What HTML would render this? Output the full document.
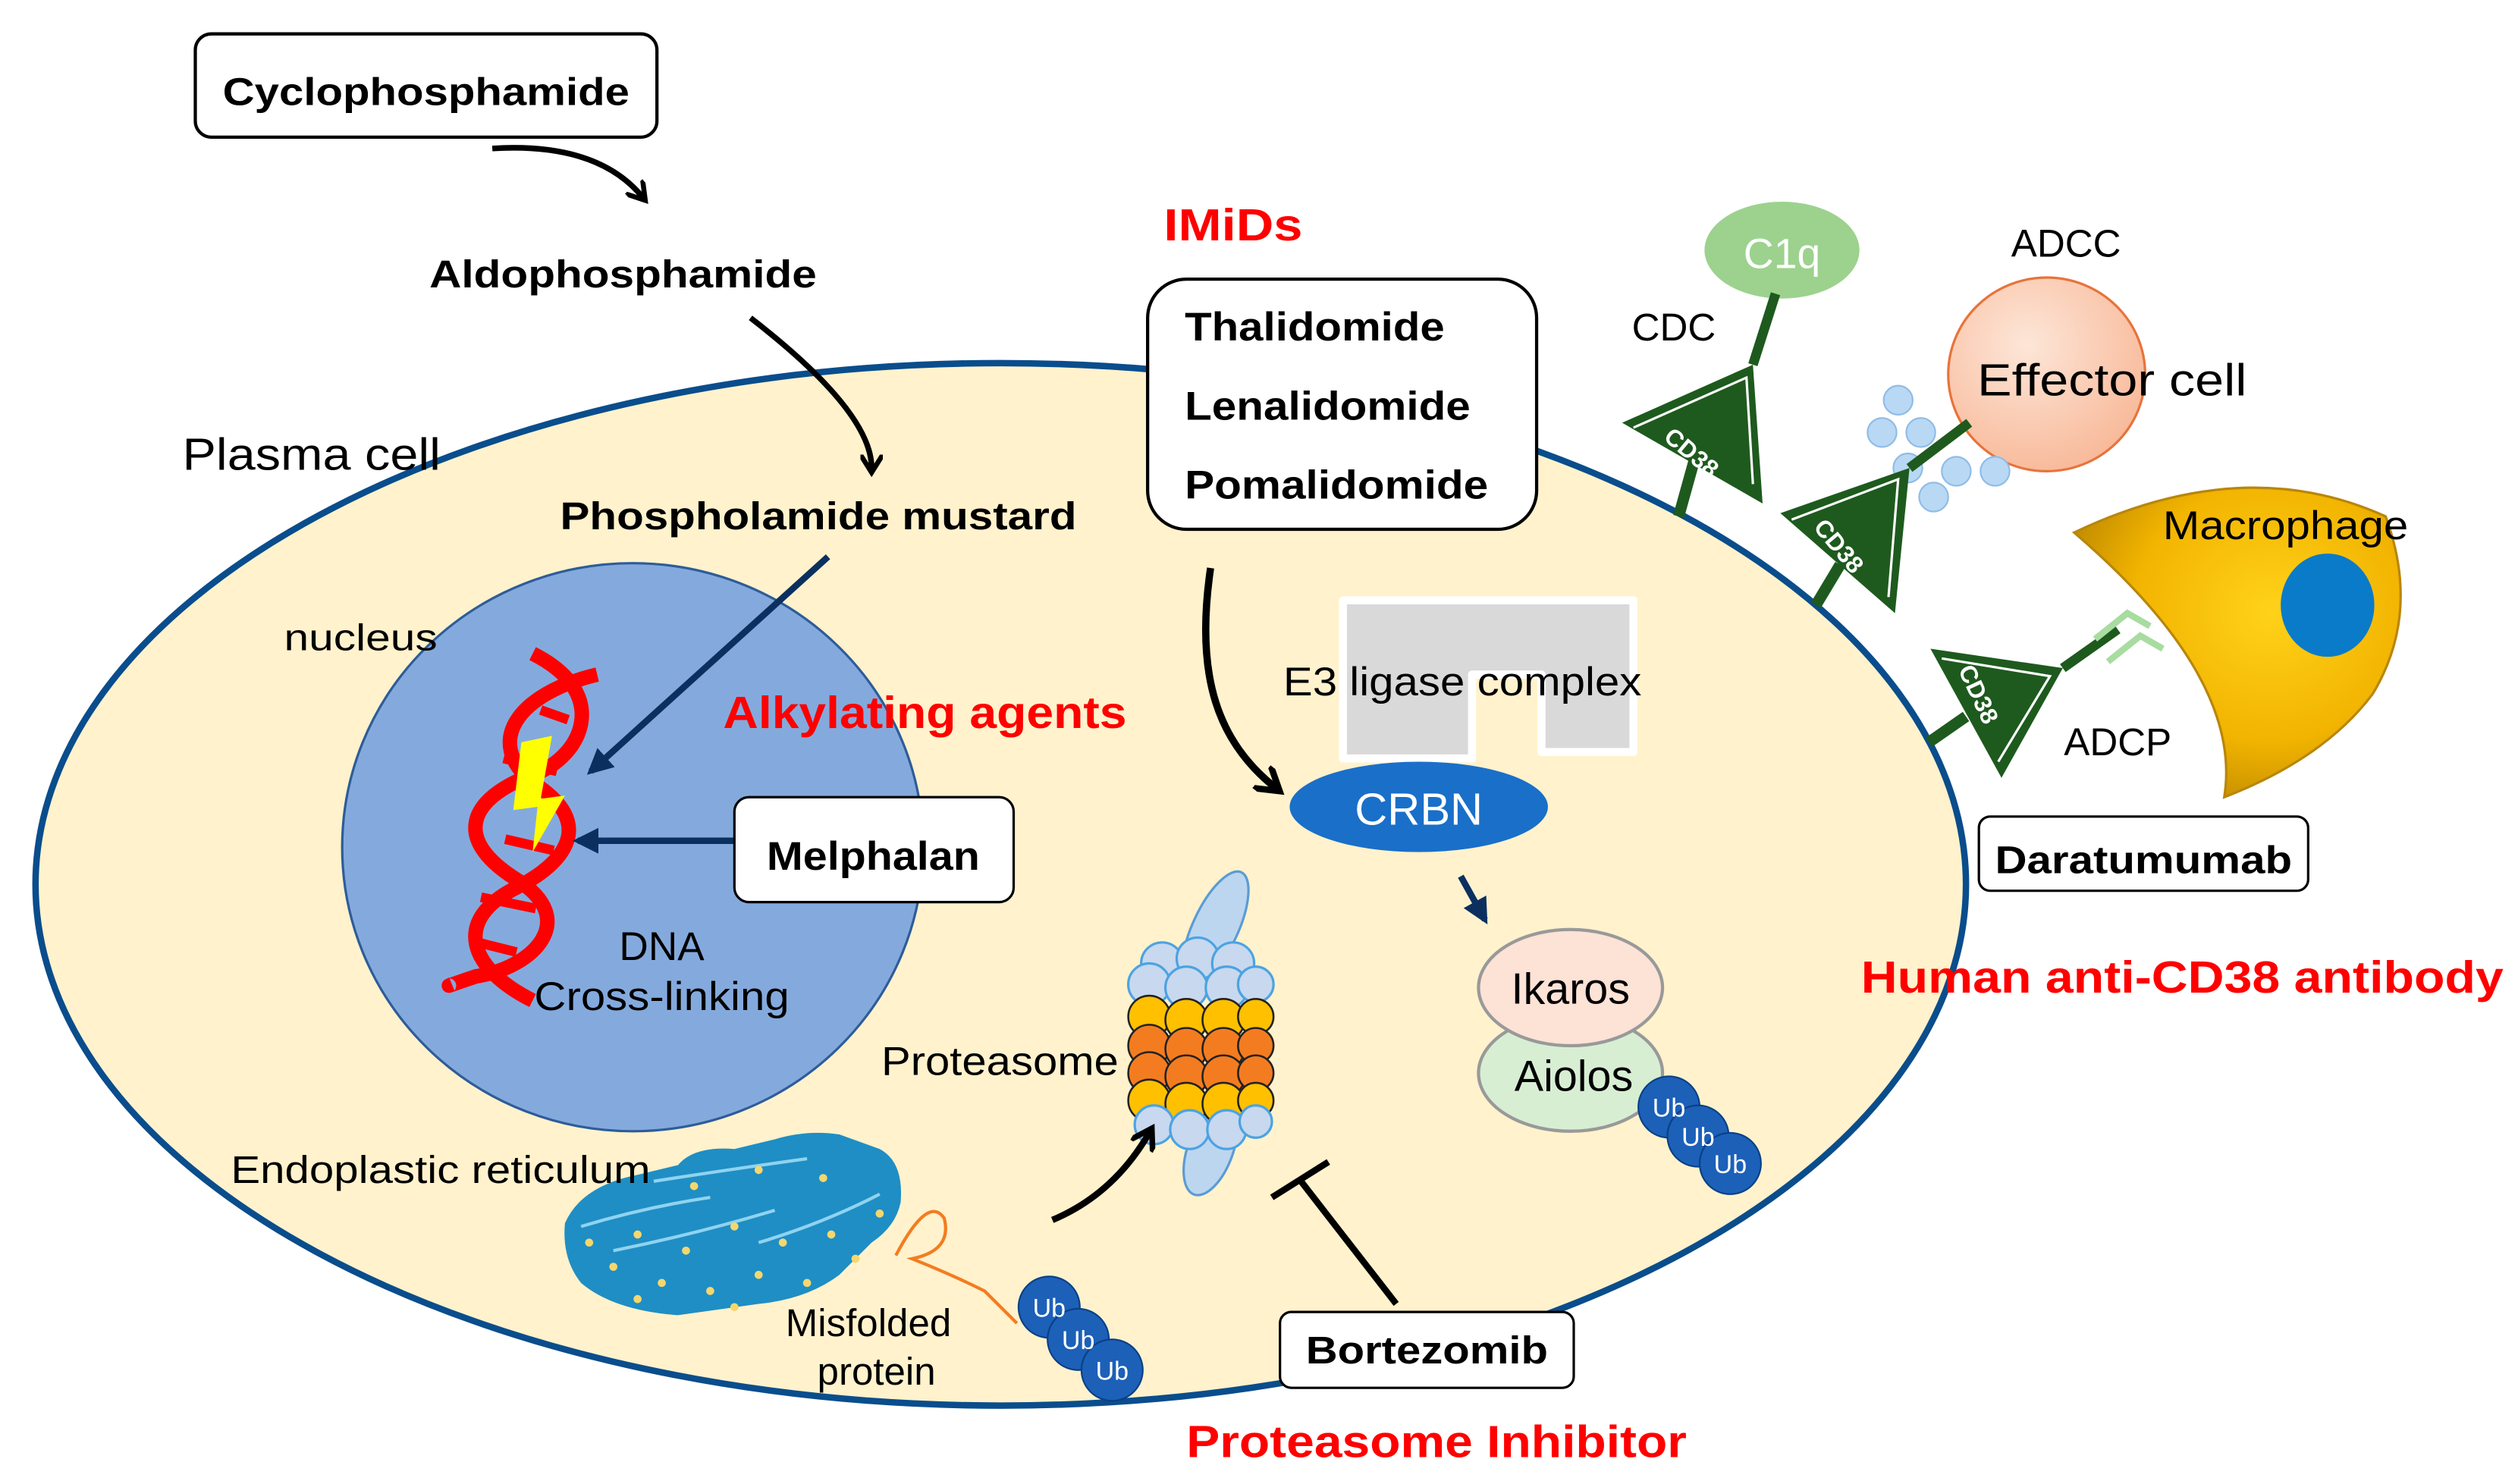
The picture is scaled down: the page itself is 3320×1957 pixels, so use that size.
<!DOCTYPE html>
<html><head><meta charset="utf-8"><style>
html,body{margin:0;padding:0;background:#fff;}
svg{display:block;}
text{font-family:"Liberation Sans",sans-serif;}
</style></head><body>
<svg width="3320" height="1957" viewBox="0 0 1560 919.6" preserveAspectRatio="none" xmlns="http://www.w3.org/2000/svg">
<defs>
<marker id="ah" viewBox="0 0 10 10" refX="6" refY="5" markerWidth="4" markerHeight="4" orient="auto"><path d="M0,0 L8,5 L0,10" fill="none" stroke="#000" stroke-width="2.2"/></marker>
<marker id="nb" viewBox="0 0 10 10" refX="8" refY="5" markerWidth="4" markerHeight="4" orient="auto"><path d="M0,0 L10,5 L0,10 z" fill="#0b3060"/></marker>
<radialGradient id="eff" cx="40%" cy="35%" r="70%"><stop offset="0" stop-color="#fde6d8"/><stop offset="1" stop-color="#f8b898"/></radialGradient>
<radialGradient id="mac" cx="60%" cy="40%" r="70%"><stop offset="0" stop-color="#ffd21a"/><stop offset="0.6" stop-color="#f2b400"/><stop offset="1" stop-color="#b88400"/></radialGradient>
</defs>

<!-- cell -->
<ellipse cx="620" cy="548" rx="598" ry="323" fill="#fff2cc" stroke="#0a4d8c" stroke-width="4"/>
<!-- nucleus -->
<ellipse cx="392" cy="525" rx="180" ry="176" fill="#84aadd" stroke="#2e5c9a" stroke-width="1.5"/>

<!-- top boxes -->
<rect x="121" y="21" width="286" height="64" rx="10" fill="#fff" stroke="#000" stroke-width="2"/>
<text x="264" y="65" text-anchor="middle" font-weight="bold" font-size="24" textLength="252" lengthAdjust="spacingAndGlyphs">Cyclophosphamide</text>
<path d="M305,92 Q370,88 398,122" fill="none" stroke="#000" stroke-width="3.5" marker-end="url(#ah)"/>
<text x="386" y="178" text-anchor="middle" font-weight="bold" font-size="24" textLength="240" lengthAdjust="spacingAndGlyphs">Aldophosphamide</text>
<path d="M465,197 Q540,255 540,290" fill="none" stroke="#000" stroke-width="3.5" marker-end="url(#ah)"/>
<text x="113" y="291" font-size="28" textLength="160" lengthAdjust="spacingAndGlyphs">Plasma cell</text>
<text x="507" y="328" text-anchor="middle" font-weight="bold" font-size="24" textLength="320" lengthAdjust="spacingAndGlyphs">Phospholamide mustard</text>
<text x="176" y="403" font-size="23" textLength="95" lengthAdjust="spacingAndGlyphs">nucleus</text>

<!-- DNA -->
<g stroke="#ff0000" stroke-width="9" fill="none">
<path d="M330,405 C380,430 360,470 330,480 C290,495 280,520 320,545 C360,570 330,600 295,605 C280,610 275,612 280,610"/>
<path d="M370,418 C320,430 300,460 330,485 C370,510 350,535 320,550 C280,570 290,600 330,620"/>
</g>
<g stroke="#ff0000" stroke-width="6">
<line x1="335" y1="440" x2="352" y2="446"/><line x1="312" y1="470" x2="345" y2="478"/>
<line x1="313" y1="520" x2="343" y2="527"/><line x1="298" y1="556" x2="332" y2="563"/>
<line x1="296" y1="584" x2="320" y2="590"/>
</g>
<polygon points="323,460 342,456 335,495 350,493 330,528 333,500 318,502" fill="#ffff00"/>
<line x1="513" y1="345" x2="366" y2="478" stroke="#0b3060" stroke-width="4" marker-end="url(#nb)"/>
<line x1="455" y1="521" x2="358" y2="521" stroke="#0b3060" stroke-width="4" marker-end="url(#nb)"/>
<text x="573" y="451" text-anchor="middle" font-weight="bold" font-size="28" fill="#ff0000" textLength="250" lengthAdjust="spacingAndGlyphs">Alkylating agents</text>
<rect x="455" y="494" width="173" height="65" rx="9" fill="#fff" stroke="#000" stroke-width="1.5"/>
<text x="541" y="539" text-anchor="middle" font-weight="bold" font-size="25" textLength="132" lengthAdjust="spacingAndGlyphs">Melphalan</text>
<text x="410" y="595" text-anchor="middle" font-size="25">DNA</text>
<text x="410" y="626" text-anchor="middle" font-size="25" textLength="158" lengthAdjust="spacingAndGlyphs">Cross-linking</text>

<!-- IMiDs -->
<text x="764" y="149" text-anchor="middle" font-weight="bold" font-size="28" fill="#ff0000" textLength="86" lengthAdjust="spacingAndGlyphs">IMiDs</text>
<rect x="711" y="173" width="241" height="155" rx="24" fill="#fff" stroke="#000" stroke-width="2"/>
<text x="734" y="211" font-weight="bold" font-size="25" textLength="161" lengthAdjust="spacingAndGlyphs">Thalidomide</text>
<text x="734" y="260" font-weight="bold" font-size="25" textLength="177" lengthAdjust="spacingAndGlyphs">Lenalidomide</text>
<text x="734" y="309" font-weight="bold" font-size="25" textLength="188" lengthAdjust="spacingAndGlyphs">Pomalidomide</text>
<path d="M750,352 C740,420 755,460 790,488" fill="none" stroke="#000" stroke-width="4.5" marker-end="url(#ah)"/>

<!-- E3 ligase -->
<path d="M832,372 H1012 V466 H955 V418 H912 V470 H832 Z" fill="#d9d9d9" stroke="#fff" stroke-width="5" stroke-linejoin="round"/>
<text x="795" y="431" font-size="25" textLength="222" lengthAdjust="spacingAndGlyphs">E3 ligase complex</text>
<ellipse cx="879" cy="500" rx="80" ry="28" fill="#1a6fc9"/>
<text x="879" y="511" text-anchor="middle" font-size="28" fill="#fff">CRBN</text>
<line x1="905" y1="543" x2="920" y2="570" stroke="#0b3060" stroke-width="4" marker-end="url(#nb)"/>
<ellipse cx="973" cy="665" rx="57" ry="36" fill="#d7eed3" stroke="#999" stroke-width="2"/>
<ellipse cx="973" cy="612" rx="57" ry="36" fill="#fde2d6" stroke="#999" stroke-width="2"/>
<text x="973" y="622" text-anchor="middle" font-size="27">Ikaros</text>
<text x="975" y="676" text-anchor="middle" font-size="27">Aiolos</text>
<g fill="#1c60b8" stroke="#0a3f85" stroke-width="1">
<circle cx="1034" cy="686" r="19"/><circle cx="1052" cy="704" r="19"/><circle cx="1072" cy="721" r="19"/></g>
<g fill="#fff" font-size="16" text-anchor="middle"><text x="1034" y="692">Ub</text><text x="1052" y="710">Ub</text><text x="1072" y="727">Ub</text></g>

<!-- proteasome -->
<ellipse cx="753" cy="575" rx="14" ry="38" transform="rotate(25 753 575)" fill="#bcd6f0" stroke="#5b9bd5" stroke-width="1.5"/>
<ellipse cx="750" cy="712" rx="14" ry="30" transform="rotate(20 750 712)" fill="#bcd6f0" stroke="#5b9bd5" stroke-width="1.5"/>
<g stroke="#4ba3e3" stroke-width="1.5" fill="#c8d8ee">
<circle cx="720" cy="597" r="13"/><circle cx="742" cy="594" r="13"/><circle cx="764" cy="597" r="13"/>
<circle cx="712" cy="610" r="13"/><circle cx="735" cy="612" r="13"/><circle cx="760" cy="612" r="13"/><circle cx="778" cy="610" r="11"/>
</g>
<g stroke="#222" stroke-width="1.2">
<g fill="#ffc000"><circle cx="712" cy="630" r="13"/><circle cx="735" cy="632" r="13"/><circle cx="758" cy="632" r="13"/><circle cx="778" cy="630" r="11"/></g>
<g fill="#f47c20"><circle cx="712" cy="648" r="13"/><circle cx="735" cy="650" r="13"/><circle cx="758" cy="650" r="13"/><circle cx="778" cy="648" r="11"/></g>
<g fill="#f47c20"><circle cx="712" cy="665" r="13"/><circle cx="735" cy="667" r="13"/><circle cx="758" cy="667" r="13"/><circle cx="778" cy="665" r="11"/></g>
<g fill="#ffc000"><circle cx="712" cy="682" r="13"/><circle cx="735" cy="684" r="13"/><circle cx="758" cy="684" r="13"/><circle cx="778" cy="682" r="11"/></g>
</g>
<g stroke="#4ba3e3" stroke-width="1.5" fill="#c8d8ee">
<circle cx="715" cy="697" r="12"/><circle cx="737" cy="700" r="12"/><circle cx="760" cy="700" r="12"/><circle cx="778" cy="695" r="10"/>
</g>
<text x="546" y="666" font-size="25" textLength="147" lengthAdjust="spacingAndGlyphs">Proteasome</text>
<path d="M652,756 Q690,740 712,702" fill="none" stroke="#000" stroke-width="4" marker-end="url(#ah)"/>
<line x1="865" y1="808" x2="806" y2="732" stroke="#000" stroke-width="4"/>
<line x1="788" y1="742" x2="823" y2="720" stroke="#000" stroke-width="4"/>

<!-- ER -->
<g>
<path d="M350,758 Q360,735 395,728 L420,722 Q430,710 455,712 L480,706 Q500,700 520,703 L545,712 Q560,720 558,745 Q555,760 540,770 L520,790 Q500,805 470,808 L420,815 Q380,812 360,795 Q348,780 350,758 Z" fill="#1f8ec4"/>
<path d="M360,760 Q400,748 440,742 M380,775 Q430,765 480,750 M405,732 Q450,725 500,718 M470,770 Q510,758 545,740" stroke="#8fd3f0" stroke-width="2" fill="none"/>
<g fill="#f5d76e">
<circle cx="365" cy="770" r="2.5"/><circle cx="380" cy="785" r="2.5"/><circle cx="395" cy="765" r="2.5"/><circle cx="410" cy="795" r="2.5"/><circle cx="425" cy="775" r="2.5"/><circle cx="440" cy="800" r="2.5"/><circle cx="455" cy="760" r="2.5"/><circle cx="470" cy="790" r="2.5"/><circle cx="485" cy="770" r="2.5"/><circle cx="500" cy="795" r="2.5"/><circle cx="515" cy="765" r="2.5"/><circle cx="530" cy="780" r="2.5"/><circle cx="545" cy="752" r="2.5"/><circle cx="430" cy="735" r="2.5"/><circle cx="470" cy="725" r="2.5"/><circle cx="510" cy="730" r="2.5"/><circle cx="395" cy="805" r="2.5"/><circle cx="455" cy="810" r="2.5"/>
</g>
</g>
<path d="M555,778 Q575,740 585,755 Q590,775 565,780 Q590,790 610,800 Q625,815 630,820" fill="none" stroke="#f47c20" stroke-width="2"/>
<text x="143" y="733" font-size="24" textLength="260" lengthAdjust="spacingAndGlyphs">Endoplastic reticulum</text>
<text x="538" y="828" text-anchor="middle" font-size="24">Misfolded</text>
<text x="543" y="858" text-anchor="middle" font-size="24">protein</text>
<g fill="#1c60b8" stroke="#0a3f85" stroke-width="1">
<circle cx="650" cy="810" r="19"/><circle cx="668" cy="830" r="19"/><circle cx="689" cy="849" r="19"/></g>
<g fill="#fff" font-size="16" text-anchor="middle"><text x="650" y="816">Ub</text><text x="668" y="836">Ub</text><text x="689" y="855">Ub</text></g>
<rect x="793" y="813" width="182" height="47" rx="7" fill="#fff" stroke="#000" stroke-width="1.5"/>
<text x="884" y="845" text-anchor="middle" font-weight="bold" font-size="24" textLength="150" lengthAdjust="spacingAndGlyphs">Bortezomib</text>
<text x="890" y="903" text-anchor="middle" font-weight="bold" font-size="28" fill="#ff0000" textLength="310" lengthAdjust="spacingAndGlyphs">Proteasome Inhibitor</text>

<!-- right side -->
<ellipse cx="1104" cy="155" rx="48" ry="30" fill="#9cd28e"/>
<text x="1104" y="166" text-anchor="middle" font-size="26" fill="#fff">C1q</text>
<text x="1037" y="211" text-anchor="middle" font-size="24">CDC</text>
<text x="1280" y="159" text-anchor="middle" font-size="24">ADCC</text>
<ellipse cx="1268" cy="232" rx="61" ry="60" fill="url(#eff)" stroke="#e8733a" stroke-width="1.5"/>
<text x="1225" y="245" font-size="28" textLength="167" lengthAdjust="spacingAndGlyphs">Effector cell</text>
<g fill="#b8d8f4" stroke="#8fbbe6" stroke-width="1">
<circle cx="1176" cy="248" r="9"/><circle cx="1166" cy="268" r="9"/><circle cx="1190" cy="268" r="9"/><circle cx="1182" cy="290" r="9"/><circle cx="1212" cy="292" r="9"/><circle cx="1236" cy="292" r="9"/><circle cx="1198" cy="308" r="9"/>
</g>
<g fill="#1e5a1e" stroke="#1e5a1e">
<line x1="1040" y1="320" x2="1050" y2="284" stroke-width="7"/>
<polygon points="1005,262 1086,226 1092,312" stroke="none"/>
<line x1="1086" y1="226" x2="1100" y2="182" stroke-width="6"/>
<line x1="1125" y1="375" x2="1140" y2="350" stroke-width="7"/>
<polygon points="1103,318 1183,290 1174,380" stroke="none"/>
<line x1="1183" y1="290" x2="1220" y2="262" stroke-width="6"/>
<line x1="1195" y1="460" x2="1218" y2="444" stroke-width="7"/>
<polygon points="1196,402 1278,414 1240,482" stroke="none"/>
<line x1="1278" y1="414" x2="1312" y2="390" stroke-width="6"/>
</g>
<g fill="none" stroke="#fff" stroke-width="1.5">
<polyline points="1012,265 1082,234 1086,300"/><polyline points="1110,322 1176,297 1170,370"/><polyline points="1203,408 1270,419 1238,472"/>
</g>
<g fill="#fff" font-size="15" font-weight="bold">
<text x="1030" y="272" transform="rotate(40 1030 272)">CD38</text>
<text x="1123" y="327" transform="rotate(50 1123 327)">CD38</text>
<text x="1213" y="415" transform="rotate(65 1213 415)">CD38</text>
</g>
<path d="M1298,396 L1318,380 L1332,388 M1306,410 L1326,394 L1340,402" fill="none" stroke="#a8dca0" stroke-width="4"/>
<path d="M1285,330 Q1390,280 1478,320 Q1500,380 1470,430 Q1440,470 1378,494 Q1390,420 1285,330 Z" fill="url(#mac)" stroke="#b8860b" stroke-width="1.5"/>
<ellipse cx="1442" cy="375" rx="29" ry="32" fill="#0a7bc8"/>
<text x="1340" y="334" font-size="25" textLength="152" lengthAdjust="spacingAndGlyphs">Macrophage</text>
<text x="1312" y="468" text-anchor="middle" font-size="24">ADCP</text>
<rect x="1226" y="506" width="204" height="46" rx="7" fill="#fff" stroke="#000" stroke-width="1.5"/>
<text x="1328" y="541" text-anchor="middle" font-weight="bold" font-size="24" textLength="184" lengthAdjust="spacingAndGlyphs">Daratumumab</text>
<text x="1352" y="615" text-anchor="middle" font-weight="bold" font-size="28" fill="#ff0000" textLength="398" lengthAdjust="spacingAndGlyphs">Human anti-CD38 antibody</text>
</svg>
</body></html>
